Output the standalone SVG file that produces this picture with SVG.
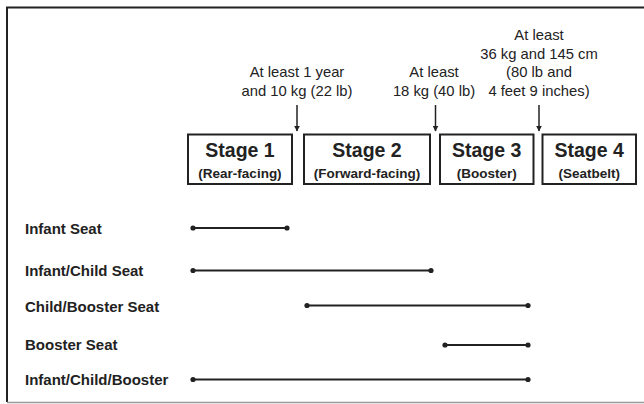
<svg xmlns="http://www.w3.org/2000/svg" width="644" height="404" viewBox="0 0 644 404">
<defs>
<style>
.ann{font-family:"Liberation Sans",Arial,sans-serif;font-size:14.8px;fill:#222;text-anchor:middle}
.st{font-family:"Liberation Sans",Arial,sans-serif;font-size:19.5px;font-weight:bold;fill:#222;text-anchor:middle}
.sub{font-family:"Liberation Sans",Arial,sans-serif;font-size:13.5px;font-weight:bold;fill:#222;text-anchor:middle}
.lab{font-family:"Liberation Sans",Arial,sans-serif;font-size:15px;font-weight:bold;fill:#222}
.box{fill:#fff;stroke:#222;stroke-width:2}
.bar{stroke:#222;stroke-width:2;fill:none}
.arr{stroke:#222;stroke-width:1.5;fill:none}
.dot{fill:#222}
</style>
<marker id="ah" viewBox="0 0 10 10" refX="9" refY="5" markerWidth="6" markerHeight="6" markerUnits="userSpaceOnUse" orient="auto">
<path d="M0,0 L10,5 L0,10 Z" fill="#222"/>
</marker>
</defs>
<rect width="644" height="404" fill="#fff"/>
<path d="M7,402 V7.5 H644" fill="none" stroke="#222" stroke-width="2"/>
<line x1="7" y1="402.5" x2="644" y2="402.5" stroke="#999" stroke-width="1.5"/>

<g id="threshold1">
<text class="ann" x="297" y="77">At least 1 year</text>
<text class="ann" x="297" y="96">and 10 kg (22 lb)</text>
</g>
<g id="threshold2">
<text class="ann" x="434" y="77">At least</text>
<text class="ann" x="434" y="96">18 kg (40 lb)</text>
</g>
<g id="threshold3">
<text class="ann" x="539" y="40">At least</text>
<text class="ann" x="539" y="59">36 kg and 145 cm</text>
<text class="ann" x="539" y="77">(80 lb and</text>
<text class="ann" x="539" y="96">4 feet 9 inches)</text>
</g>

<g id="connectors">
<line class="arr" x1="297" y1="105" x2="297" y2="131" marker-end="url(#ah)"/>
<line class="arr" x1="435.5" y1="105" x2="435.5" y2="131" marker-end="url(#ah)"/>
<line class="arr" x1="539" y1="105" x2="539" y2="131" marker-end="url(#ah)"/>
</g>

<g id="stage1">
<rect class="box" x="188" y="134.5" width="104" height="49.5"/>
<text class="st" x="240" y="157">Stage 1</text>
<text class="sub" x="240" y="178">(Rear-facing)</text>
</g>
<g id="stage2">
<rect class="box" x="304" y="134.5" width="126" height="49.5"/>
<text class="st" x="367" y="157">Stage 2</text>
<text class="sub" x="367" y="178">(Forward-facing)</text>
</g>
<g id="stage3">
<rect class="box" x="440" y="134.5" width="93.5" height="49.5"/>
<text class="st" x="486.7" y="157">Stage 3</text>
<text class="sub" x="486.7" y="178">(Booster)</text>
</g>
<g id="stage4">
<rect class="box" x="542.5" y="134.5" width="93.5" height="49.5"/>
<text class="st" x="589.2" y="157">Stage 4</text>
<text class="sub" x="589.2" y="178">(Seatbelt)</text>
</g>

<g id="row-infant-seat">
<text class="lab" x="25" y="233.5">Infant Seat</text>
<line class="bar" x1="193" y1="228" x2="287" y2="228"/>
<circle class="dot" cx="193" cy="228" r="2.6"/>
<circle class="dot" cx="287" cy="228" r="2.6"/>
</g>
<g id="row-infant-child-seat">
<text class="lab" x="25" y="276">Infant/Child Seat</text>
<line class="bar" x1="193" y1="270.5" x2="431" y2="270.5"/>
<circle class="dot" cx="193" cy="270.5" r="2.6"/>
<circle class="dot" cx="431" cy="270.5" r="2.6"/>
</g>
<g id="row-child-booster-seat">
<text class="lab" x="25" y="311.5">Child/Booster Seat</text>
<line class="bar" x1="307" y1="305.5" x2="528" y2="305.5"/>
<circle class="dot" cx="307" cy="305.5" r="2.6"/>
<circle class="dot" cx="528" cy="305.5" r="2.6"/>
</g>
<g id="row-booster-seat">
<text class="lab" x="25" y="349.5">Booster Seat</text>
<line class="bar" x1="445" y1="345" x2="528" y2="345"/>
<circle class="dot" cx="445" cy="345" r="2.6"/>
<circle class="dot" cx="528" cy="345" r="2.6"/>
</g>
<g id="row-infant-child-booster">
<text class="lab" x="25" y="384.5">Infant/Child/Booster</text>
<line class="bar" x1="193" y1="379.5" x2="528" y2="379.5"/>
<circle class="dot" cx="193" cy="379.5" r="2.6"/>
<circle class="dot" cx="528" cy="379.5" r="2.6"/>
</g>
</svg>
